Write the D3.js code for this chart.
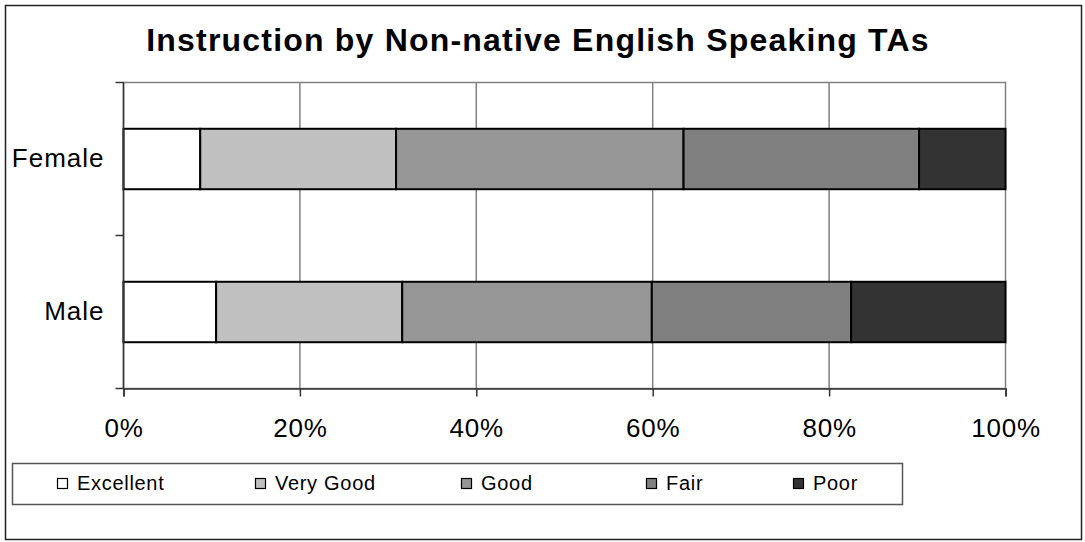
<!DOCTYPE html>
<html>
<head>
<meta charset="utf-8">
<script src="https://cdn.jsdelivr.net/npm/d3@7"></script>
<style>
  html, body { margin: 0; padding: 0; background: #fff; }
  svg { display: block; font-family: Arial, "Liberation Sans", sans-serif; }
</style>
</head>
<body>
<svg id="chart" width="1085" height="542"></svg>
<script>
const title = "Instruction by Non-native English Speaking TAs";
const categories = ["Female", "Male"];
const seriesNames = ["Excellent", "Very Good", "Good", "Fair", "Poor"];
const seriesColors = ["#ffffff", "#c0c0c0", "#969696", "#808080", "#333333"];
const excellent = [8.7, 10.5];
const veryGood = [22.2, 21.1];
const good = [32.6, 28.3];
const fair = [26.7, 22.6];
const poor = [9.8, 17.5];
const xTicks = [0, 20, 40, 60, 80, 100];

const seriesValues = [excellent, veryGood, good, fair, poor];
const rows = categories.map((c, i) => {
  const r = { category: c };
  seriesNames.forEach((s, j) => r[s] = seriesValues[j][i]);
  return r;
});

const svg = d3.select("#chart");

// outer border
svg.append("rect").attr("x", 5.5).attr("y", 5.5).attr("width", 1076).attr("height", 534)
  .attr("fill", "#fff").attr("stroke", "#222").attr("stroke-width", 1.5);

const plot = { left: 123.5, right: 1005.5, top: 82.5, bottom: 388.5 };

const x = d3.scaleLinear().domain([0, 100]).range([plot.left, plot.right]);
const y = d3.scaleBand().domain(categories).range([plot.top, plot.bottom]).padding(0);
const barFrac = 0.395;

// plot area border (gray)
svg.append("rect").attr("x", plot.left).attr("y", plot.top)
  .attr("width", plot.right - plot.left).attr("height", plot.bottom - plot.top)
  .attr("fill", "none").attr("stroke", "#808080").attr("stroke-width", 1.5);

// gridlines
svg.append("g").selectAll("line").data(xTicks.slice(1, -1)).join("line")
  .attr("x1", d => x(d)).attr("x2", d => x(d))
  .attr("y1", plot.top).attr("y2", plot.bottom)
  .attr("stroke", "#808080").attr("stroke-width", 1.5);

// bars
const stack = d3.stack().keys(seriesNames)(rows);
const bh = y.bandwidth() * barFrac;
svg.append("g").selectAll("g").data(stack).join("g")
  .attr("fill", (d, i) => seriesColors[i])
  .selectAll("rect").data(d => d).join("rect")
  .attr("x", d => x(d[0]))
  .attr("width", d => x(d[1]) - x(d[0]))
  .attr("y", d => y(d.data.category) + (y.bandwidth() - bh) / 2)
  .attr("height", bh)
  .attr("stroke", "#000").attr("stroke-width", 2);

// x axis
const xAxis = d3.axisBottom(x).tickValues(xTicks).tickFormat(d => d + "%").tickSize(8).tickPadding(22);
const gx = svg.append("g").attr("transform", `translate(0,${plot.bottom})`).call(xAxis);
gx.select(".domain").attr("stroke", "#333").attr("stroke-width", 1.5);
gx.selectAll(".tick line").attr("stroke", "#333").attr("stroke-width", 1.5);
gx.selectAll(".tick text").attr("font-size", 26).attr("letter-spacing", 0.8)
  .attr("fill", "#000").attr("font-family", "Arial, 'Liberation Sans', sans-serif");

// y axis: ticks at band boundaries, labels at centers
const yBounds = [plot.top, plot.bottom].concat(categories.map(c => y(c))).filter((v, i, a) => a.indexOf(v) === i);
svg.append("line").attr("x1", plot.left).attr("x2", plot.left).attr("y1", plot.top).attr("y2", plot.bottom)
  .attr("stroke", "#333").attr("stroke-width", 1.5);
svg.append("g").selectAll("line").data(yBounds).join("line")
  .attr("x1", plot.left - 8).attr("x2", plot.left).attr("y1", d => d).attr("y2", d => d)
  .attr("stroke", "#333").attr("stroke-width", 1.5);
svg.append("g").selectAll("text").data(categories).join("text")
  .attr("x", plot.left - 19).attr("y", d => y(d) + y.bandwidth() / 2 + 1)
  .attr("text-anchor", "end").attr("dominant-baseline", "middle")
  .attr("font-size", 26).attr("letter-spacing", 1).attr("fill", "#000").text(d => d);

// title
svg.append("text").attr("x", 538).attr("y", 51).attr("text-anchor", "middle")
  .attr("font-size", 32).attr("font-weight", "bold").attr("letter-spacing", 1.2)
  .attr("fill", "#000").text(title);

// legend
const legend = { x: 12.5, y: 463.5, w: 890, h: 41 };
svg.append("rect").attr("x", legend.x).attr("y", legend.y).attr("width", legend.w).attr("height", legend.h)
  .attr("fill", "#fff").attr("stroke", "#555").attr("stroke-width", 1.5);
const legendX = [57, 255, 461, 646, 793];
const lg = svg.append("g").selectAll("g").data(seriesNames).join("g")
  .attr("transform", (d, i) => `translate(${legendX[i]},${legend.y + legend.h / 2})`);
lg.append("rect").attr("x", 0.5).attr("y", -5.5).attr("width", 10).attr("height", 10)
  .attr("fill", (d, i) => seriesColors[i]).attr("stroke", "#000").attr("stroke-width", 1.2);
lg.append("text").attr("x", 20).attr("y", 1).attr("dominant-baseline", "middle")
  .attr("font-size", 20).attr("letter-spacing", 0.7).attr("fill", "#000").text(d => d);
</script>
</body>
</html>
